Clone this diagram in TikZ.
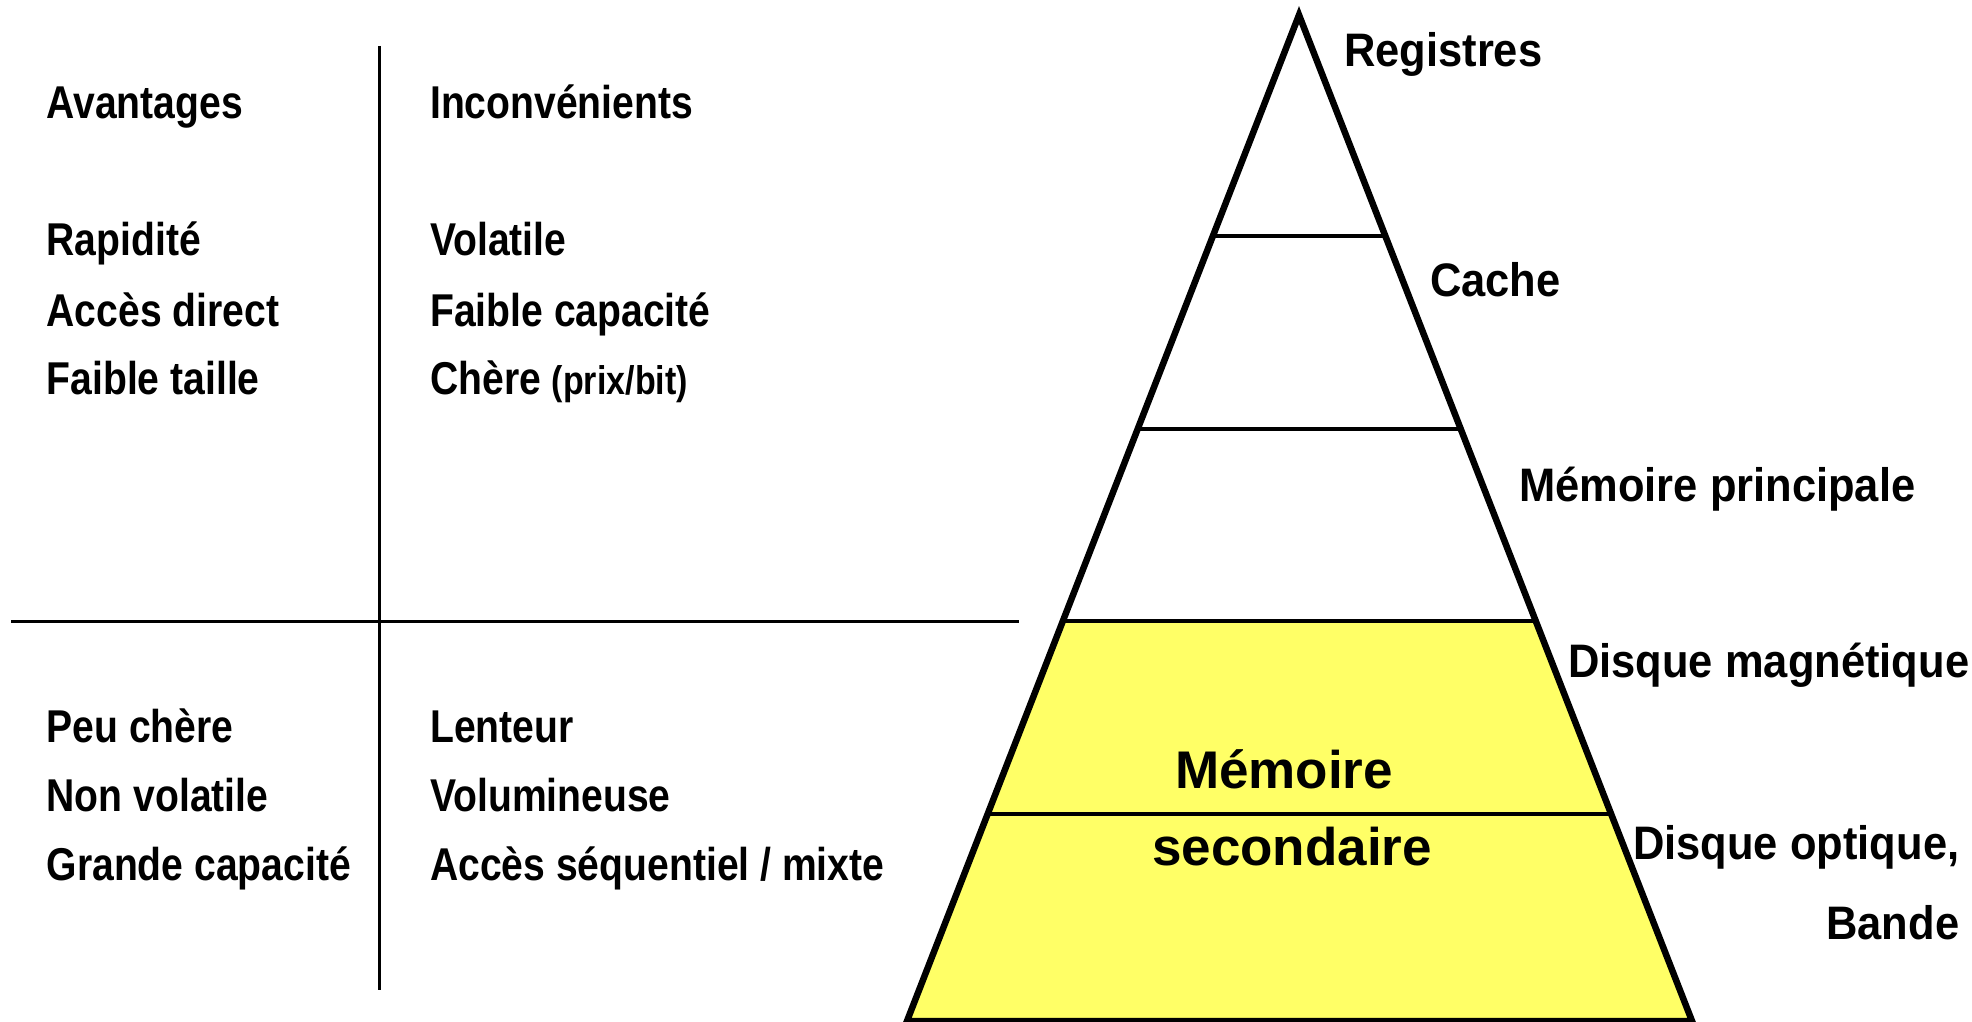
\documentclass[tikz,border=0pt]{standalone}
\usepackage{fontspec}
\setmainfont{Liberation Sans}
\newfontfamily\narrowfont{Liberation Sans}[FakeStretch=0.85]
\newfontfamily\labelfont{Liberation Sans}[FakeStretch=0.925]
\usetikzlibrary{calc}
\definecolor{secyellow}{HTML}{FFFF66}

\begin{document}
\begin{tikzpicture}[x=1pt,y=-1pt,
  cell/.style={anchor=base west, inner sep=0pt,
    font=\narrowfont\bfseries\fontsize{46}{50}\selectfont},
  level/.style={anchor=base west, inner sep=0pt,
    font=\labelfont\bfseries\fontsize{47}{50}\selectfont},
  center/.style={anchor=base, inner sep=0pt,
    font=\bfseries\fontsize{53}{56}\selectfont},
  rule/.style={line width=3pt},
  divider/.style={line width=3.3pt},
  outline/.style={line width=6.5pt, line join=miter}]
\useasboundingbox (0,0) rectangle (1972,1022);

% --- comparison table ---
\coordinate (vtop) at (379,46);
\coordinate (vbot) at (379,990);
\coordinate (hleft) at (11,621);
\coordinate (hright) at (1019,621);
\draw[rule] (vtop) -- (vbot);
\draw[rule] (hleft) -- (hright);

\node[cell] (av)  at (46.5,118) {Avantages};
\node[cell] (in)  at (430,118) {Inconvénients};
\node[cell] (a1)  at (46.5,255) {Rapidité};
\node[cell] (a2)  at (46.5,326) {Accès direct};
\node[cell] (a3)  at (46.5,394) {Faible taille};
\node[cell] (i1)  at (430,255) {Volatile};
\node[cell] (i2)  at (430,326) {Faible capacité};
\node[cell] (i3)  at (430,394) {Chère {\fontsize{40}{44}\selectfont(prix/bit)}};
\node[cell] (a4)  at (46.5,742) {Peu chère};
\node[cell] (a5)  at (46.5,811) {Non volatile};
\node[cell] (a6)  at (46.5,880) {Grande capacité};
\node[cell] (i4)  at (430,742) {Lenteur};
\node[cell] (i5)  at (430,811) {Volumineuse};
\node[cell] (i6)  at (430,880) {Accès séquentiel / mixte};

% --- memory pyramid ---
\coordinate (apex) at (1299,15);
\coordinate (bl) at (907,1021);
\coordinate (br) at (1692,1021);
\foreach \t [count=\i] in {0.2197,0.4115,0.6024,0.7942} {
  \coordinate (l\i) at ($(apex)!\t!(bl)$);
  \coordinate (r\i) at ($(apex)!\t!(br)$);
}
\fill[secyellow] (l3) -- (r3) -- (br) -- (bl) -- cycle;
\draw[divider] (l1) -- (r1);
\draw[divider] (l2) -- (r2);
\draw[divider] (l3) -- (r3);
\draw[divider] (l4) -- (r4);
\draw[outline] (bl) -- (apex) -- (br) -- cycle;

\node[level] (reg)  at (1344,67)  {Registres};
\node[level] (cac)  at (1430,296) {Cache};
\node[level] (mp)   at (1519,501) {Mémoire principale};
\node[level] (dm)   at (1568,677) {Disque magnétique};
\node[level] (dop)  at (1633,859) {Disque optique,};
\node[level, anchor=base east] (ban) at (dop.base east |- 0,939) {Bande};

\node[center] (ms1) at (1284,788) {Mémoire};
\node[center] (ms2) at (1292,865) {secondaire};
\end{tikzpicture}
\end{document}
